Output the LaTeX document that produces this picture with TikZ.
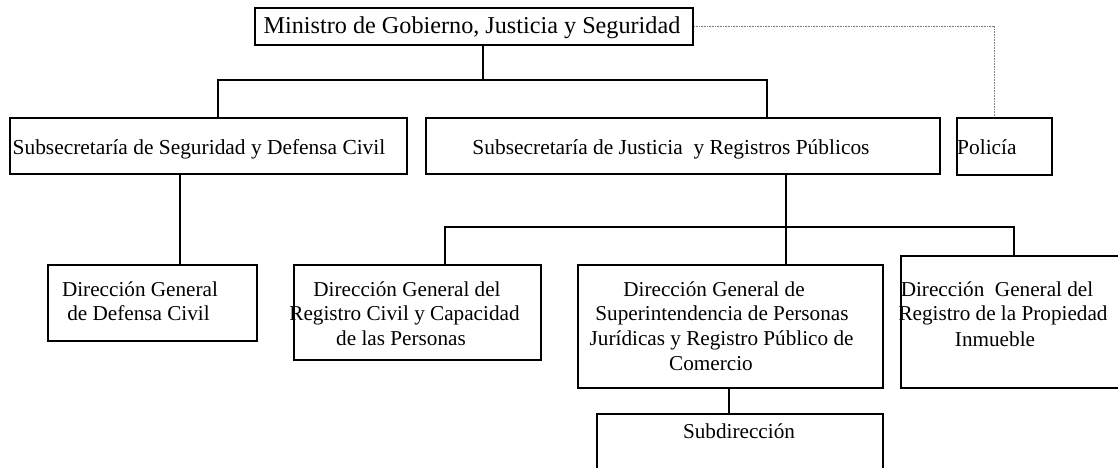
\documentclass[tikz,border=0pt]{standalone}
\usepackage{fontspec}
\setmainfont{Liberation Serif}
\begin{document}
\begin{tikzpicture}[x=1pt,y=-1pt,
  box/.style={draw, line width=2.1pt, inner sep=0pt, anchor=north west},
  conn/.style={line width=2.1pt},
  dotconn/.style={draw=gray, line width=0.7pt, dash pattern=on 0.8pt off 0.8pt},
  txt/.style={inner sep=0pt, anchor=base, font=\fontsize{21.2}{25}\selectfont},
  txtsub/.style={inner sep=0pt, anchor=base, font=\fontsize{21.4}{25}\selectfont},
  txttop/.style={inner sep=0pt, anchor=base, font=\fontsize{24.2}{28}\selectfont}]
\useasboundingbox[fill=white] (0,0) rectangle (1118,468);
% boxes
\node[box, minimum width=438pt, minimum height=37pt] (top) at (254,7) {};
\node[box, minimum width=397pt, minimum height=56pt] (sub1) at (8.6,117) {};
\node[box, minimum width=513.6pt, minimum height=56pt] (sub2) at (425,117) {};
\node[box, minimum width=95pt, minimum height=57pt] (pol) at (956,117) {};
\node[box, minimum width=209pt, minimum height=76pt] (ddc) at (47,264) {};
\node[box, minimum width=247pt, minimum height=95pt] (drc) at (293,264) {};
\node[box, minimum width=305pt, minimum height=123pt] (dsp) at (577,264) {};
\node[box, minimum width=240pt, minimum height=132pt] (dpi) at (900,255) {};
\node[box, minimum width=286pt, minimum height=80pt] (sd) at (596,413) {};
% texts
\node[txttop] (ttop) at (472,33.3) {Ministro de Gobierno, Justicia y Seguridad};
\node[txtsub] (tsub1) at (199,154) {Subsecretaría de Seguridad y Defensa Civil};
\node[txtsub] (tsub2) at (671,154) {Subsecretaría de Justicia~ y Registros Públicos};
\node[txtsub, anchor=base west] (tpol) at (957,154) {Policía};
\node[txt] (tddca) at (140,296) {Dirección General};
\node[txt] (tddcb) at (138.5,320) {de Defensa Civil};
\node[txt] (tdrca) at (407,296) {Dirección General del};
\node[txt] (tdrcb) at (404.5,320) {Registro Civil y Capacidad};
\node[txt] (tdrcc) at (401,345.7) {de las Personas};
\node[txt] (tdspa) at (714,296) {Dirección General de};
\node[txt] (tdspb) at (722,320) {Superintendencia de Personas};
\node[txt] (tdspc) at (721.6,345.7) {Jurídicas y Registro Público de};
\node[txt] (tdspd) at (711,370) {Comercio};
\node[txt] (tdpia) at (997,296) {Dirección~ General del};
\node[txt] (tdpib) at (1003,320) {Registro de la Propiedad};
\node[txt] (tdpic) at (995,346) {Inmueble};
\node[txt] (tsd) at (739,438.3) {Subdirección};
% junction coordinates
\coordinate (j0) at (483,80);
\coordinate (j1) at (218,80);
\coordinate (j2) at (767,80);
\coordinate (k0) at (786,227);
\coordinate (k1) at (445,227);
\coordinate (k2) at (1014,227);
\coordinate (d0) at (994,25);
\coordinate (x1) at (180,0);
\coordinate (x2) at (729,0);
% connectors
\draw[conn] (top.south -| j0) -- (j0);
\draw[conn] (sub1.north -| j1) -- (j1) -- (j2) -- (sub2.north -| j2);
\draw[conn] (sub1.south -| x1) -- (ddc.north -| x1);
\draw[conn] (sub2.south -| k0) -- (dsp.north -| k0);
\draw[conn] (drc.north -| k1) -- (k1) -- (k2) -- (dpi.north -| k2);
\draw[conn] (dsp.south -| x2) -- (sd.north -| x2);
\draw[dotconn] (top.east) -- (top.east -| d0) -- (pol.north -| d0);
\end{tikzpicture}
\end{document}
